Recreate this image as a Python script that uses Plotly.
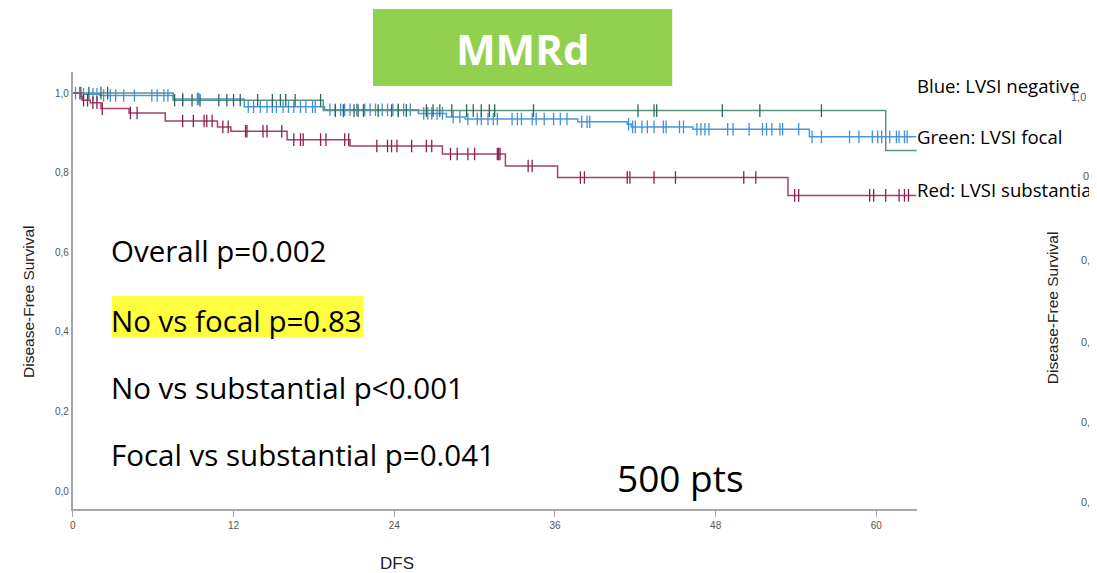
import numpy as np
import plotly.graph_objects as go

W, H = 1097, 573
OFFX, OFFY = 10, 8  # page offset of the rendered figure

# ---- Data (months, survival) ----
blue_times = [0, 0.8, 2.0, 7.5, 12.8, 18.8, 25.8, 27.9, 29.3, 37.7, 41.4, 41.7, 46.3, 55.0, 63.0]
blue_surv = [1.0, 0.997, 0.994, 0.985, 0.966, 0.958, 0.949, 0.940, 0.935, 0.928, 0.922, 0.915, 0.909, 0.890, 0.890]
blue_censor = [0.2, 0.5, 0.8, 1.5, 1.8, 2.3, 2.8, 3.2, 3.8, 4.6, 5.9, 6.3, 6.8, 7.1, 8.2, 9.3, 9.4,
               13.1, 13.5, 14.0, 14.5, 14.9, 15.2, 15.7, 16.1, 16.5, 17.0, 17.4, 17.9, 18.1, 19.2, 19.6,
               20.0, 20.3, 20.7, 21.2, 21.8, 22.2, 22.6, 23.1, 23.5, 23.9, 24.3, 24.7, 25.2, 26.2, 26.5,
               26.8, 27.2, 27.6, 28.4, 28.9, 29.5, 30.2, 30.5, 31.0, 31.4, 31.7, 32.8, 33.2, 33.5, 34.3,
               34.6, 35.2, 35.9, 36.4, 36.9, 38.0, 38.4, 38.6, 41.5, 41.8, 42.0, 42.5, 42.9, 43.4, 44.1,
               44.3, 45.3, 45.6, 46.6, 46.9, 47.2, 47.5, 48.9, 49.3, 50.5, 51.5, 51.8, 52.2, 52.8, 53.0,
               54.2, 55.2, 55.9, 58.0, 58.7, 59.7, 60.1, 60.4, 61.0, 61.5, 61.7, 62.1, 62.3]

green_times = [0, 7.5, 18.7, 60.7, 63.2]
green_surv = [1.0, 0.982, 0.956, 0.856, 0.856]
green_censor = [0.6, 1.2, 2.1, 2.6, 7.6, 8.2, 8.9, 9.5, 10.9, 11.5, 12.0, 12.5, 13.8, 14.9, 15.5,
                15.9, 16.6, 18.5, 19.6, 20.2, 21.0, 21.3, 21.7, 22.8, 23.8, 24.3, 24.9, 26.4, 26.9,
                27.4, 28.3, 29.4, 29.9, 30.5, 31.1, 31.5, 34.4, 42.2, 43.4, 43.6, 48.5, 51.3, 55.9]

red_times = [0, 0.6, 0.7, 1.3, 2.1, 4.2, 6.9, 10.8, 11.8, 16.0, 20.7, 27.6, 32.3, 36.2, 53.4, 63.0]
red_surv = [1.0, 0.992, 0.982, 0.976, 0.961, 0.950, 0.930, 0.915, 0.904, 0.883, 0.867, 0.847, 0.817,
            0.788, 0.743, 0.743]
red_censor = [0.8, 1.1, 1.5, 1.8, 2.2, 4.3, 4.8, 8.2, 9.0, 9.8, 10.0, 10.4, 11.2, 11.6, 12.9, 13.0,
              14.2, 14.5, 15.6, 16.5, 17.0, 17.2, 18.5, 18.9, 20.3, 20.6, 22.7, 23.5, 23.8, 24.2,
              25.3, 26.4, 26.8, 28.2, 28.7, 29.5, 30.0, 31.7, 31.8, 31.9, 34.0, 34.3, 37.9, 38.2,
              41.4, 41.6, 43.4, 45.0, 50.1, 51.0, 53.9, 54.2, 59.5, 59.8, 60.7, 61.7, 62.1, 62.4]

x_ticks = [0, 12, 24, 36, 48, 60]
y_ticks = [0.0, 0.2, 0.4, 0.6, 0.8, 1.0]
y_tick_text = ["0,0", "0,2", "0,4", "0,6", "0,8", "1,0"]

stats_lines = ["Overall p=0.002", "No vs focal p=0.83", "No vs substantial p<0.001",
               "Focal vs substantial p=0.041"]
legend_lines = ["Blue: LVSI negative", "Green: LVSI focal", "Red: LVSI substantial"]
title_text = "MMRd"
pts_text = "500 pts"


def px(x):
    return (x - OFFX) / W


def py(y):
    return 1 - (y - OFFY) / H


def step_at(times, surv, t):
    idx = np.searchsorted(np.array(times), np.array(t), side="right") - 1
    return list(np.array(surv)[idx])


fig = go.Figure()

groups = [
    ("LVSI negative", blue_times, blue_surv, blue_censor, "#4a98df", "#3f90dc"),
    ("LVSI focal", green_times, green_surv, green_censor, "#5f918a", "#2c6a52"),
    ("LVSI substantial", red_times, red_surv, red_censor, "#a2416e", "#8a2150"),
]
for name, t, s, c, lc, mc in groups:
    fig.add_trace(go.Scatter(x=t, y=s, mode="lines", line=dict(color=lc, width=1.5, shape="hv"),
                             name=name, showlegend=False, hoverinfo="skip"))
    fig.add_trace(go.Scatter(x=c, y=step_at(t, s, c), mode="markers",
                             marker=dict(symbol="line-ns", size=9, line=dict(color=mc, width=1.3)),
                             name=name + " censored", showlegend=False))

axis_col = "#a6a6a6"
fig.update_layout(
    width=W, height=H,
    margin=dict(l=0, r=0, t=0, b=0),
    paper_bgcolor="white", plot_bgcolor="white",
    xaxis=dict(domain=[px(72), px(918)], range=[0, 63], tickvals=x_ticks,
               showline=True, linecolor=axis_col, linewidth=2, ticks="outside", ticklen=6,
               tickcolor=axis_col, tickwidth=1, showgrid=False, zeroline=False,
               tickfont=dict(family="Liberation Sans", size=10, color="#555555")),
    yaxis=dict(domain=[py(509), py(72)], range=[-0.045, 1.053], tickvals=y_ticks,
               ticktext=y_tick_text, showline=True, linecolor=axis_col, linewidth=2,
               ticks="", showgrid=False, zeroline=False,
               tickfont=dict(family="Liberation Sans", size=10, color="#555555")),
)

# title box
fig.add_shape(type="rect", xref="paper", yref="paper", x0=px(373), x1=px(673), y0=py(86), y1=py(9),
              fillcolor="#92d050", line=dict(width=0), layer="below")
fig.add_annotation(xref="paper", yref="paper", x=px(523), y=py(48), text="<b>" + title_text + "</b>",
                   showarrow=False, xanchor="center", yanchor="middle",
                   font=dict(family="Open Sans", size=42, color="white"))

# highlight
fig.add_shape(type="rect", xref="paper", yref="paper", x0=px(111), x1=px(363), y0=py(337), y1=py(296),
              fillcolor="#ffff40", line=dict(width=0), layer="below")

stat_y = [251, 320, 387, 454]
for txt, yy in zip(stats_lines, stat_y):
    fig.add_annotation(xref="paper", yref="paper", x=px(108), y=py(yy), text=txt, showarrow=False,
                       xanchor="left", yanchor="middle",
                       font=dict(family="Open Sans", size=29.5, color="black"))

fig.add_annotation(xref="paper", yref="paper", x=px(616), y=py(477), text=pts_text, showarrow=False,
                   xanchor="left", yanchor="middle", font=dict(family="Open Sans", size=37, color="black"))

leg_y = [85, 137, 189]
for txt, yy in zip(legend_lines, leg_y):
    fig.add_annotation(xref="paper", yref="paper", x=px(916), y=py(yy), text=txt, showarrow=False,
                       xanchor="left", yanchor="middle",
                       font=dict(family="Open Sans", size=18.6, color="black"))

# axis titles
fig.add_annotation(xref="paper", yref="paper", x=px(27), y=py(302), text="Disease-Free Survival",
                   textangle=-90, showarrow=False, xanchor="center", yanchor="middle",
                   font=dict(family="Liberation Sans", size=15.5, color="#222222"))
fig.add_annotation(xref="paper", yref="paper", x=px(397), y=py(563), text="DFS",
                   showarrow=False, xanchor="center", yanchor="middle",
                   font=dict(family="Liberation Sans", size=17, color="#222222"))

# partial neighbouring chart at the right edge
fig.add_annotation(xref="paper", yref="paper", x=px(1054), y=py(308), text="Disease-Free Survival",
                   textangle=-90, showarrow=False, xanchor="center", yanchor="middle",
                   font=dict(family="Liberation Sans", size=15.5, color="#222222"))
right_ticks = [("1,0", 1071, 97), ("0,8", 1083, 176), ("0,6", 1081, 260), ("0,4", 1081, 342),
               ("0,2", 1081, 422), ("0,0", 1081, 502)]
for txt, xx, yy in right_ticks:
    fig.add_annotation(xref="paper", yref="paper", x=px(xx), y=py(yy), text=txt, showarrow=False,
                       xanchor="left", yanchor="middle",
                       font=dict(family="Liberation Sans", size=11, color="#555555"))

fig.write_html("out.html")
